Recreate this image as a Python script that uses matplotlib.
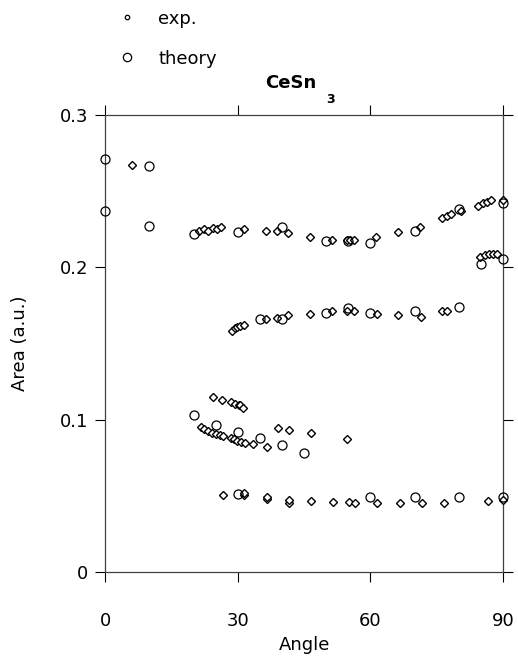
import matplotlib.pyplot as plt
from matplotlib.lines import Line2D

plt.rcParams['font.family'] = ['DejaVu Sans']

# measured peak areas (small diamonds)
exp_angle = [6, 21.3, 22.3, 23.3, 24.3, 25.3, 26.3, 31.3, 36.3, 38.8, 41.3,
             46.3, 51.3, 54.8, 55.3, 56.3, 61.3, 66.3, 71.3, 76.3, 77.3,
             78.3, 80.4, 84.4, 85.4, 86.3, 87.3, 90,
             28.8, 29.4, 29.9, 30.5, 31.4, 36.4, 38.9, 41.4, 46.3, 51.4,
             54.7, 56.3, 61.4, 66.3, 71.4, 76.3, 77.4,
             84.9, 85.9, 86.8, 87.8, 88.7,
             24.5, 26.5, 28.5, 29.4, 30.2, 30.6, 31.1, 39.0, 41.5, 46.5, 54.8,
             21.6, 22.4, 23.3, 24.2, 25.1, 26.0, 26.6, 28.4, 29.2, 29.9,
             30.7, 31.6, 33.5, 36.6,
             26.6, 31.4, 31.4, 36.6, 36.6, 41.5, 41.5, 46.5, 51.6, 55.1,
             56.5, 61.6, 66.7, 71.7, 76.6, 86.7, 90]
exp_area = [0.267, 0.224, 0.225, 0.224, 0.2254, 0.225, 0.226, 0.225, 0.224,
            0.2234, 0.2224, 0.2195, 0.2175, 0.2175, 0.2175, 0.2175, 0.2195,
            0.223, 0.226, 0.232, 0.2333, 0.2349, 0.2366, 0.2403, 0.2421,
            0.2428, 0.2438, 0.244,
            0.1584, 0.1598, 0.1604, 0.1611, 0.162, 0.166, 0.1668, 0.1683,
            0.1692, 0.1714, 0.171, 0.1714, 0.1694, 0.1687, 0.1676, 0.171,
            0.171,
            0.2066, 0.2081, 0.2086, 0.2086, 0.2084,
            0.1145, 0.1127, 0.1116, 0.1101, 0.1094, 0.1098, 0.1075, 0.0944,
            0.0934, 0.0915, 0.0873,
            0.0954, 0.0937, 0.0926, 0.0915, 0.0908, 0.0901, 0.0895, 0.0882,
            0.0871, 0.086, 0.0856, 0.0849, 0.0842, 0.0821,
            0.0506, 0.0505, 0.052, 0.0477, 0.0495, 0.0455, 0.047, 0.0468,
            0.046, 0.0462, 0.0451, 0.0455, 0.0455, 0.0455, 0.0455, 0.0468,
            0.047]

# calculated areas (open circles)
theo_angle = [0, 0, 10, 10, 20, 30, 40, 50, 55, 60, 70, 80, 90,
              35, 40, 50, 55, 60, 70, 80, 85, 90,
              20, 25, 30, 35, 40, 45,
              30, 60, 70, 80, 90]
theo_area = [0.271, 0.237, 0.266, 0.227, 0.222, 0.223, 0.226, 0.217, 0.217,
             0.216, 0.224, 0.238, 0.242,
             0.166, 0.166, 0.170, 0.173, 0.170, 0.171, 0.174, 0.202, 0.205,
             0.103, 0.0965, 0.092, 0.088, 0.0834, 0.078,
             0.051, 0.049, 0.049, 0.049, 0.049]

x_ticks = [0, 30, 60, 90]
y_ticks = [0, 0.1, 0.2, 0.3]
y_ticklabels = ['0', '0.1', '0.2', '0.3']

fig = plt.figure(figsize=(5.18, 6.59), dpi=100)
ax = fig.add_axes([0.203, 0.132, 0.768, 0.694])

ax.plot(exp_angle, exp_area, linestyle='none', marker='D', markersize=3.6,
        markerfacecolor='white', markeredgecolor='black', markeredgewidth=1.0,
        clip_on=False, zorder=3)
ax.plot(theo_angle, theo_area, linestyle='none', marker='o', markersize=6.5,
        markerfacecolor='none', markeredgecolor='black', markeredgewidth=0.9,
        clip_on=False, zorder=4)

ax.set_xlim(0, 90)
ax.set_ylim(0, 0.3)
ax.set_xticks(x_ticks)
ax.set_yticks(y_ticks)
ax.set_yticklabels(y_ticklabels)
ax.tick_params(direction='out', length=7, width=0.8, labelsize=13,
               top=True, right=True)
ax.tick_params(axis='x', pad=22)
ax.tick_params(axis='y', pad=5)
for s in ax.spines.values():
    s.set_linewidth(0.9)
    s.set_color('0.25')

ax.set_xlabel('Angle', fontsize=13, labelpad=4)
ax.set_ylabel('Area (a.u.)', fontsize=13, labelpad=22)

# title with a dropped subscript
fig.text(265 / 518, 1 - 88 / 659, 'CeSn', fontsize=13, fontweight='bold',
         ha='left', va='baseline')
fig.text(326 / 518, 1 - 93 / 659, '3', fontsize=9, fontweight='bold',
         ha='left', va='top')

handles = [
    Line2D([], [], linestyle='none', marker='o', markersize=3.2,
           markerfacecolor='white', markeredgecolor='black',
           markeredgewidth=0.9),
    Line2D([], [], linestyle='none', marker='o', markersize=6,
           markerfacecolor='none', markeredgecolor='black',
           markeredgewidth=0.9),
]
fig.legend(handles, ['exp.', 'theory'], loc='upper left',
           bbox_to_anchor=(0.197, 1.01), frameon=False, fontsize=13,
           handlelength=1.0, handletextpad=1.22, labelspacing=1.22)

fig.savefig('out.png', dpi=100)
